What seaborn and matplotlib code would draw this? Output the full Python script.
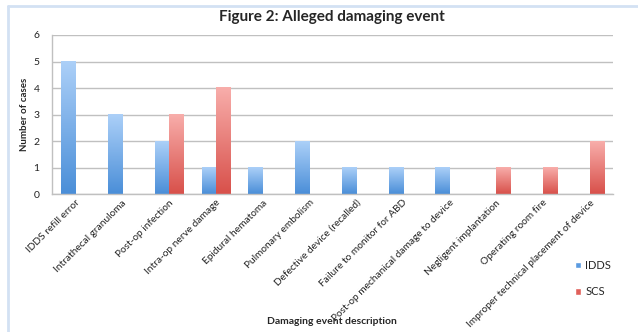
import matplotlib
matplotlib.use("Agg")
import matplotlib.pyplot as plt
import matplotlib.patches as mpatches
from matplotlib.colors import LinearSegmentedColormap
import numpy as np
import pandas as pd
import seaborn as sns

categories = [
    "IDDS refill error", "Intrathecal granuloma", "Post-op infection",
    "Intra-op nerve damage", "Epidural hematoma", "Pulmonary embolism",
    "Defective device (recalled)", "Failure to monitor for ABD",
    "Post-op mechanical damage to device", "Negligent implantation",
    "Operating room fire", "Improper technical placement of device",
]
idds = [5, 3, 2, 1, 1, 2, 1, 1, 1, 0, 0, 0]
scs = [0, 0, 3, 4, 0, 0, 0, 0, 0, 1, 1, 2]
series = ["IDDS", "SCS"]
yticks = [0, 1, 2, 3, 4, 5, 6]

df = pd.DataFrame({
    "event": categories * 2,
    "cases": idds + scs,
    "series": ["IDDS"] * len(categories) + ["SCS"] * len(categories),
})

grad = {
    "IDDS": ("#4a8ed8", "#acd0f8"),
    "SCS": ("#d8504a", "#f8aeab"),
}

sns.set_style("white")
plt.rcParams["font.family"] = ["Lato", "DejaVu Sans"]

fig = plt.figure(figsize=(6.38, 3.32), dpi=100)
ax = fig.add_axes([52 / 638, 1 - 194 / 332, (613 - 52) / 638, (194 - 35) / 332])

sns.barplot(data=df, x="event", y="cases", hue="series", order=categories,
            hue_order=series, palette={"IDDS": "#5b9be0", "SCS": "#e0605a"},
            width=0.6, dodge=True, ax=ax, legend=False, linewidth=0)

ax.set_ylim(0, 6)
ax.set_xlim(-0.5, len(categories) - 0.5)
xlim = ax.get_xlim()
ylim = ax.get_ylim()

# gradient fill on the bars
nb = len(categories)
for i, p in enumerate(ax.patches):
    h = p.get_height()
    if h <= 0 or i >= 2 * nb:
        continue
    s = series[i // nb]
    x0 = p.get_x()
    w = p.get_width()
    cmap = LinearSegmentedColormap.from_list("g", list(grad[s]))
    img = np.linspace(0, 1, 256).reshape(-1, 1)
    ax.imshow(img, extent=[x0, x0 + w, 0, h], origin="lower", cmap=cmap,
              aspect="auto", zorder=p.get_zorder() + 0.1, interpolation="bicubic")
    p.set_alpha(0)
ax.set_xlim(xlim)
ax.set_ylim(ylim)

ax.set_yticks(yticks)
ax.yaxis.grid(True, color="#c0c0c0", linewidth=1)
ax.set_axisbelow(True)
for side in ["top", "right"]:
    ax.spines[side].set_visible(False)
for side in ["left", "bottom"]:
    ax.spines[side].set_color("#c0c0c0")
    ax.spines[side].set_linewidth(1)

ax.tick_params(axis="y", labelsize=7.5, length=0, pad=9, colors="#222222")
ax.tick_params(axis="x", labelsize=7.3, length=0, pad=3, colors="#222222")
ax.set_xticks(range(nb))
ax.set_xticklabels(categories, rotation=45, ha="right", rotation_mode="anchor")
ax.set_xlabel("")
ax.set_ylabel("Number of cases", fontsize=7, fontweight="bold", labelpad=3)

fig.text(332 / 638, 1 - 17 / 332, "Figure 2: Alleged damaging event",
         ha="center", va="center", fontsize=11, fontweight="bold")
fig.text(332 / 638, 1 - 322 / 332, "Damaging event description",
         ha="center", va="center", fontsize=7.5, fontweight="bold")

handles = [mpatches.Patch(facecolor="#5b9be0", label="IDDS"),
           mpatches.Patch(facecolor="#e0605a", label="SCS")]
fig.legend(handles=handles, loc="upper left",
           bbox_to_anchor=(567 / 638, 1 - 252 / 332), frameon=False,
           fontsize=8, handlelength=0.55, handleheight=0.55,
           handletextpad=0.4, labelspacing=1.4, borderpad=0.2)

# light blue frame (top and left)
fig.add_artist(plt.Line2D([8 / 638, 1], [1 - 6 / 332, 1 - 6 / 332],
                          transform=fig.transFigure, color="#d3e1f3", linewidth=2))
fig.add_artist(plt.Line2D([8 / 638, 8 / 638], [0, 1 - 6 / 332],
                          transform=fig.transFigure, color="#d3e1f3", linewidth=2))

fig.savefig("out.png", dpi=100)
